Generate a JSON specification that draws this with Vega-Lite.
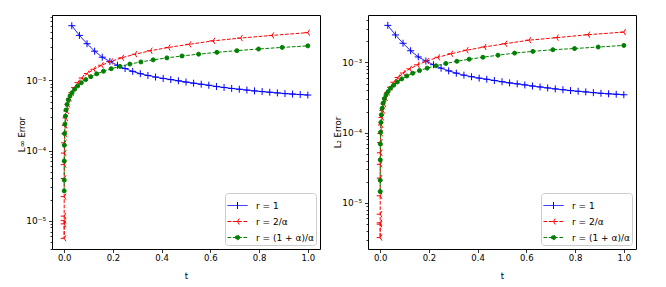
{
  "$schema": "https://vega.github.io/schema/vega-lite/v6.json",
  "padding": {"left": 16, "top": 14, "right": 5, "bottom": 5},
  "spacing": 11,
  "config": {
    "font": "DejaVu Sans",
    "view": {"stroke": "black", "strokeWidth": 1},
    "axis": {"domain": false, "grid": false, "tickColor": "black", "tickWidth": 0.8, "labelColor": "black", "titleColor": "black", "labelFontSize": 8.5, "titleFontSize": 8.5, "titleFontWeight": "normal", "labelFont": "DejaVu Sans", "titleFont": "DejaVu Sans"},
    "legend": {"orient": "bottom-right", "offset": 4, "padding": 2, "rowPadding": -1.5, "labelOffset": 8, "labelFontSize": 9, "labelColor": "black", "labelFont": "DejaVu Sans", "symbolSize": 400, "symbolStrokeWidth": 1, "fillColor": "white", "strokeColor": "#cccccc", "cornerRadius": 3}
  },
  "datasets": {
    "left": [
      {"s":"r = 1","t":0.03125,"e":0.00605},{"s":"r = 1","t":0.0625,"e":0.0044},{"s":"r = 1","t":0.09375,"e":0.00335},{"s":"r = 1","t":0.125,"e":0.00262},
      {"s":"r = 1","t":0.15625,"e":0.00215},{"s":"r = 1","t":0.1875,"e":0.00187},{"s":"r = 1","t":0.21875,"e":0.00165},{"s":"r = 1","t":0.25,"e":0.00148},
      {"s":"r = 1","t":0.28125,"e":0.00135},{"s":"r = 1","t":0.3125,"e":0.00125},{"s":"r = 1","t":0.34375,"e":0.00118},{"s":"r = 1","t":0.375,"e":0.00112},
      {"s":"r = 1","t":0.40625,"e":0.00107},{"s":"r = 1","t":0.4375,"e":0.00103},{"s":"r = 1","t":0.46875,"e":0.00099},{"s":"r = 1","t":0.5,"e":0.00095},
      {"s":"r = 1","t":0.53125,"e":0.000915},{"s":"r = 1","t":0.5625,"e":0.000885},{"s":"r = 1","t":0.59375,"e":0.000855},{"s":"r = 1","t":0.625,"e":0.00082},
      {"s":"r = 1","t":0.65625,"e":0.000795},{"s":"r = 1","t":0.6875,"e":0.00077},{"s":"r = 1","t":0.71875,"e":0.00075},{"s":"r = 1","t":0.75,"e":0.00073},
      {"s":"r = 1","t":0.78125,"e":0.00071},{"s":"r = 1","t":0.8125,"e":0.000695},{"s":"r = 1","t":0.84375,"e":0.00068},{"s":"r = 1","t":0.875,"e":0.000665},
      {"s":"r = 1","t":0.90625,"e":0.00065},{"s":"r = 1","t":0.9375,"e":0.00064},{"s":"r = 1","t":0.96875,"e":0.00063},{"s":"r = 1","t":1.0,"e":0.00062},
      {"s":"r = 2/α","t":2.98e-8,"e":1.0e-5},{"s":"r = 2/α","t":9.54e-7,"e":9.0e-6},{"s":"r = 2/α","t":7.24e-6,"e":5.6e-6},{"s":"r = 2/α","t":3.05e-5,"e":1.16e-5},
      {"s":"r = 2/α","t":9.31e-5,"e":2.2e-5},{"s":"r = 2/α","t":0.0002317,"e":4.0e-5},{"s":"r = 2/α","t":0.0005009,"e":6.3e-5},{"s":"r = 2/α","t":0.0009766,"e":9.2e-5},
      {"s":"r = 2/α","t":0.00176,"e":0.000129},{"s":"r = 2/α","t":0.00298,"e":0.000174},{"s":"r = 2/α","t":0.0048,"e":0.000229},{"s":"r = 2/α","t":0.007416,"e":0.000293},
      {"s":"r = 2/α","t":0.011065,"e":0.000368},{"s":"r = 2/α","t":0.016028,"e":0.000455},{"s":"r = 2/α","t":0.022631,"e":0.000554},{"s":"r = 2/α","t":0.03125,"e":0.000666},
      {"s":"r = 2/α","t":0.042315,"e":0.000791},{"s":"r = 2/α","t":0.056314,"e":0.000931},{"s":"r = 2/α","t":0.073794,"e":0.001087},{"s":"r = 2/α","t":0.095367,"e":0.001258},
      {"s":"r = 2/α","t":0.121716,"e":0.001445},{"s":"r = 2/α","t":0.153591,"e":0.00165},{"s":"r = 2/α","t":0.191818,"e":0.00187},{"s":"r = 2/α","t":0.237305,"e":0.00211},
      {"s":"r = 2/α","t":0.291038,"e":0.00237},{"s":"r = 2/α","t":0.354093,"e":0.00266},{"s":"r = 2/α","t":0.42763,"e":0.00296},{"s":"r = 2/α","t":0.512909,"e":0.00328},
      {"s":"r = 2/α","t":0.611281,"e":0.00368},{"s":"r = 2/α","t":0.724196,"e":0.00403},{"s":"r = 2/α","t":0.853215,"e":0.0044},{"s":"r = 2/α","t":1.0,"e":0.00482},
      {"s":"r = (1 + α)/α","t":5.4e-6,"e":2.66e-5},{"s":"r = (1 + α)/α","t":6.1e-5,"e":3.8e-5},{"s":"r = (1 + α)/α","t":0.000252,"e":7.1e-5},{"s":"r = (1 + α)/α","t":0.00069,"e":0.000119},
      {"s":"r = (1 + α)/α","t":0.00151,"e":0.000175},{"s":"r = (1 + α)/α","t":0.00286,"e":0.000238},{"s":"r = (1 + α)/α","t":0.00489,"e":0.00031},{"s":"r = (1 + α)/α","t":0.00781,"e":0.00038},
      {"s":"r = (1 + α)/α","t":0.0118,"e":0.000455},{"s":"r = (1 + α)/α","t":0.01707,"e":0.00053},{"s":"r = (1 + α)/α","t":0.02383,"e":0.0006},{"s":"r = (1 + α)/α","t":0.03229,"e":0.00067},
      {"s":"r = (1 + α)/α","t":0.0427,"e":0.00075},{"s":"r = (1 + α)/α","t":0.0554,"e":0.000835},{"s":"r = (1 + α)/α","t":0.0705,"e":0.00093},{"s":"r = (1 + α)/α","t":0.0884,"e":0.00103},
      {"s":"r = (1 + α)/α","t":0.1093,"e":0.001134},{"s":"r = (1 + α)/α","t":0.1335,"e":0.001243},{"s":"r = (1 + α)/α","t":0.1613,"e":0.001355},{"s":"r = (1 + α)/α","t":0.193,"e":0.001471},
      {"s":"r = (1 + α)/α","t":0.229,"e":0.00159},{"s":"r = (1 + α)/α","t":0.2695,"e":0.001713},{"s":"r = (1 + α)/α","t":0.3148,"e":0.00184},{"s":"r = (1 + α)/α","t":0.3654,"e":0.001969},
      {"s":"r = (1 + α)/α","t":0.4215,"e":0.002102},{"s":"r = (1 + α)/α","t":0.4835,"e":0.002238},{"s":"r = (1 + α)/α","t":0.5517,"e":0.002377},{"s":"r = (1 + α)/α","t":0.6267,"e":0.00252},
      {"s":"r = (1 + α)/α","t":0.7087,"e":0.002665},{"s":"r = (1 + α)/α","t":0.7978,"e":0.002814},{"s":"r = (1 + α)/α","t":0.8949,"e":0.002966},{"s":"r = (1 + α)/α","t":1.0,"e":0.00312}
    ],
    "right": [
      {"s":"r = 1","t":0.03125,"e":0.00338},{"s":"r = 1","t":0.0625,"e":0.00247},{"s":"r = 1","t":0.09375,"e":0.00188},{"s":"r = 1","t":0.125,"e":0.00147},
      {"s":"r = 1","t":0.15625,"e":0.0012},{"s":"r = 1","t":0.1875,"e":0.00105},{"s":"r = 1","t":0.21875,"e":0.00093},{"s":"r = 1","t":0.25,"e":0.00083},
      {"s":"r = 1","t":0.28125,"e":0.00076},{"s":"r = 1","t":0.3125,"e":0.000705},{"s":"r = 1","t":0.34375,"e":0.00066},{"s":"r = 1","t":0.375,"e":0.000627},
      {"s":"r = 1","t":0.40625,"e":0.000599},{"s":"r = 1","t":0.4375,"e":0.000577},{"s":"r = 1","t":0.46875,"e":0.000554},{"s":"r = 1","t":0.5,"e":0.000532},
      {"s":"r = 1","t":0.53125,"e":0.000512},{"s":"r = 1","t":0.5625,"e":0.000496},{"s":"r = 1","t":0.59375,"e":0.000479},{"s":"r = 1","t":0.625,"e":0.000462},
      {"s":"r = 1","t":0.65625,"e":0.000448},{"s":"r = 1","t":0.6875,"e":0.000434},{"s":"r = 1","t":0.71875,"e":0.00042},{"s":"r = 1","t":0.75,"e":0.000409},
      {"s":"r = 1","t":0.78125,"e":0.000398},{"s":"r = 1","t":0.8125,"e":0.000389},{"s":"r = 1","t":0.84375,"e":0.000381},{"s":"r = 1","t":0.875,"e":0.000372},
      {"s":"r = 1","t":0.90625,"e":0.000364},{"s":"r = 1","t":0.9375,"e":0.000358},{"s":"r = 1","t":0.96875,"e":0.000353},{"s":"r = 1","t":1.0,"e":0.000347},
      {"s":"r = 2/α","t":2.98e-8,"e":5.2e-6},{"s":"r = 2/α","t":9.54e-7,"e":4.97e-6},{"s":"r = 2/α","t":7.24e-6,"e":3.2e-6},{"s":"r = 2/α","t":3.05e-5,"e":6.9e-6},
      {"s":"r = 2/α","t":9.31e-5,"e":1.26e-5},{"s":"r = 2/α","t":0.0002317,"e":2.25e-5},{"s":"r = 2/α","t":0.0005009,"e":3.54e-5},{"s":"r = 2/α","t":0.0009766,"e":5.17e-5},
      {"s":"r = 2/α","t":0.00176,"e":7.25e-5},{"s":"r = 2/α","t":0.00298,"e":9.78e-5},{"s":"r = 2/α","t":0.0048,"e":0.0001287},{"s":"r = 2/α","t":0.007416,"e":0.0001647},
      {"s":"r = 2/α","t":0.011065,"e":0.0002068},{"s":"r = 2/α","t":0.016028,"e":0.0002557},{"s":"r = 2/α","t":0.022631,"e":0.0003113},{"s":"r = 2/α","t":0.03125,"e":0.0003743},
      {"s":"r = 2/α","t":0.042315,"e":0.0004445},{"s":"r = 2/α","t":0.056314,"e":0.0005232},{"s":"r = 2/α","t":0.073794,"e":0.0006109},{"s":"r = 2/α","t":0.095367,"e":0.000707},
      {"s":"r = 2/α","t":0.121716,"e":0.000812},{"s":"r = 2/α","t":0.153591,"e":0.000927},{"s":"r = 2/α","t":0.191818,"e":0.001051},{"s":"r = 2/α","t":0.237305,"e":0.001186},
      {"s":"r = 2/α","t":0.291038,"e":0.001332},{"s":"r = 2/α","t":0.354093,"e":0.001495},{"s":"r = 2/α","t":0.42763,"e":0.001664},{"s":"r = 2/α","t":0.512909,"e":0.00185},
      {"s":"r = 2/α","t":0.611281,"e":0.00208},{"s":"r = 2/α","t":0.724196,"e":0.00226},{"s":"r = 2/α","t":0.853215,"e":0.00249},{"s":"r = 2/α","t":1.0,"e":0.00271},
      {"s":"r = (1 + α)/α","t":5.4e-6,"e":1.45e-5},{"s":"r = (1 + α)/α","t":6.1e-5,"e":2.1e-5},{"s":"r = (1 + α)/α","t":0.000252,"e":4.1e-5},{"s":"r = (1 + α)/α","t":0.00069,"e":6.9e-5},
      {"s":"r = (1 + α)/α","t":0.00151,"e":0.000101},{"s":"r = (1 + α)/α","t":0.00286,"e":0.00014},{"s":"r = (1 + α)/α","t":0.00489,"e":0.00018},{"s":"r = (1 + α)/α","t":0.00781,"e":0.000222},
      {"s":"r = (1 + α)/α","t":0.0118,"e":0.000263},{"s":"r = (1 + α)/α","t":0.01707,"e":0.000305},{"s":"r = (1 + α)/α","t":0.02383,"e":0.000345},{"s":"r = (1 + α)/α","t":0.03229,"e":0.000385},
      {"s":"r = (1 + α)/α","t":0.0427,"e":0.00043},{"s":"r = (1 + α)/α","t":0.0554,"e":0.000475},{"s":"r = (1 + α)/α","t":0.0705,"e":0.000528},{"s":"r = (1 + α)/α","t":0.0884,"e":0.000584},
      {"s":"r = (1 + α)/α","t":0.1093,"e":0.000642},{"s":"r = (1 + α)/α","t":0.1335,"e":0.000703},{"s":"r = (1 + α)/α","t":0.1613,"e":0.000766},{"s":"r = (1 + α)/α","t":0.193,"e":0.000831},
      {"s":"r = (1 + α)/α","t":0.229,"e":0.000898},{"s":"r = (1 + α)/α","t":0.2695,"e":0.000968},{"s":"r = (1 + α)/α","t":0.3148,"e":0.00104},{"s":"r = (1 + α)/α","t":0.3654,"e":0.001113},
      {"s":"r = (1 + α)/α","t":0.4215,"e":0.001188},{"s":"r = (1 + α)/α","t":0.4835,"e":0.00127},{"s":"r = (1 + α)/α","t":0.5517,"e":0.00136},{"s":"r = (1 + α)/α","t":0.6267,"e":0.00144},
      {"s":"r = (1 + α)/α","t":0.7087,"e":0.00152},{"s":"r = (1 + α)/α","t":0.7978,"e":0.00158},{"s":"r = (1 + α)/α","t":0.8949,"e":0.00166},{"s":"r = (1 + α)/α","t":1.0,"e":0.00175}
    ]
  },
  "resolve": {
    "scale": {"x": "independent", "y": "independent", "color": "independent", "strokeDash": "independent"},
    "legend": {"color": "independent"}
  },
  "hconcat": [
    {
      "width": 268, "height": 234,
      "data": {"name": "left"},
      "resolve": {"axis": {"y": "independent"}},
      "layer": [
        {
          "mark": {"type": "line", "strokeWidth": 1, "clip": true},
          "encoding": {
            "x": {"field": "t", "type": "quantitative", "scale": {"domain": [-0.05, 1.05], "nice": false, "zero": false},
                  "axis": {"values": [0, 0.2, 0.4, 0.6, 0.8, 1.0], "format": ".1f", "title": "t", "tickSize": 3.5, "labelPadding": 1, "titlePadding": 9}},
            "y": {"field": "e", "type": "quantitative", "scale": {"type": "log", "domain": [3.94e-6, 8.6e-3], "nice": false},
                  "axis": {"orient": "left", "values": [1e-5, 1e-4, 1e-3], "labelExpr": "datum.value < 3e-5 ? '10⁻⁵' : datum.value < 3e-4 ? '10⁻⁴' : '10⁻³'", "tickSize": 3.5, "labelPadding": 3, "labelFontSize": 9, "title": "L∞ Error", "titleX": -26, "titleY": 119, "titleBaseline": "bottom"}},
            "color": {"field": "s", "type": "nominal", "scale": {"domain": ["r = 1", "r = 2/α", "r = (1 + α)/α"], "range": ["#0000ff", "#ff0000", "#008000"]},
                      "legend": {"title": null, "encode": {"symbols": {"update": {
                        "shape": {"signal": "datum.index === 0 ? 'M-1,0L1,0M0,-0.35L0,0.35' : datum.index === 1 ? 'M-1,0L-0.63,0M-0.47,0L-0.1,0M0.06,0L0.43,0M0.59,0L0.96,0M0,0L-0.35,0M0,0L0.175,-0.3M0,0L0.175,0.3' : 'M-1,0L-0.63,0M-0.47,0L-0.1,0M0.06,0L0.43,0M0.59,0L0.96,0M0.22,0L0.156,0.156L0,0.22L-0.156,0.156L-0.22,0L-0.156,-0.156L0,-0.22L0.156,-0.156Z'"},
                        "size": {"value": 400},
                        "stroke": {"signal": "datum.index === 0 ? '#0000ff' : datum.index === 1 ? '#ff0000' : '#008000'"},
                        "fill": {"signal": "datum.index === 2 ? '#008000' : 'transparent'"},
                        "strokeDash": {"value": []},
                        "strokeWidth": {"value": 1},
                        "opacity": {"value": 1}
                      }}}}},
            "strokeDash": {"field": "s", "type": "nominal", "scale": {"domain": ["r = 1", "r = 2/α", "r = (1 + α)/α"], "range": [[1, 0], [3.7, 1.6], [3.7, 1.6]]}, "legend": null}
          }
        },
        {
          "transform": [{"filter": "datum.s === 'r = 1'"}],
          "mark": {"type": "point", "shape": "M-1.75,0L1.75,0M0,-1.75L0,1.75", "size": 16, "filled": false, "stroke": "#0000ff", "strokeWidth": 1, "opacity": 1, "clip": true},
          "encoding": {
            "x": {"field": "t", "type": "quantitative"},
            "y": {"field": "e", "type": "quantitative",
                  "axis": {"orient": "left", "values": [4e-6,5e-6,6e-6,7e-6,8e-6,9e-6,2e-5,3e-5,4e-5,5e-5,6e-5,7e-5,8e-5,9e-5,2e-4,3e-4,4e-4,5e-4,6e-4,7e-4,8e-4,9e-4,2e-3,3e-3,4e-3,5e-3,6e-3,7e-3,8e-3], "labels": false, "tickSize": 2, "title": null}}
          }
        },
        {
          "transform": [{"filter": "datum.s === 'r = 2/α'"}],
          "mark": {"type": "point", "shape": "M0,0L-1.75,0M0,0L0.875,-1.52M0,0L0.875,1.52", "size": 16, "filled": false, "stroke": "#ff0000", "strokeWidth": 1, "opacity": 1, "clip": true},
          "encoding": {
            "x": {"field": "t", "type": "quantitative"},
            "y": {"field": "e", "type": "quantitative", "axis": null}
          }
        },
        {
          "transform": [{"filter": "datum.s === 'r = (1 + α)/α'"}],
          "mark": {"type": "point", "shape": "circle", "size": 16, "filled": true, "fill": "#008000", "stroke": "#008000", "strokeWidth": 1, "opacity": 1, "clip": true},
          "encoding": {
            "x": {"field": "t", "type": "quantitative"},
            "y": {"field": "e", "type": "quantitative", "axis": null}
          }
        }
      ]
    },
    {
      "width": 268, "height": 234,
      "data": {"name": "right"},
      "resolve": {"axis": {"y": "independent"}},
      "layer": [
        {
          "mark": {"type": "line", "strokeWidth": 1, "clip": true},
          "encoding": {
            "x": {"field": "t", "type": "quantitative", "scale": {"domain": [-0.05, 1.05], "nice": false, "zero": false},
                  "axis": {"values": [0, 0.2, 0.4, 0.6, 0.8, 1.0], "format": ".1f", "title": "t", "tickSize": 3.5, "labelPadding": 1, "titlePadding": 9}},
            "y": {"field": "e", "type": "quantitative", "scale": {"type": "log", "domain": [2.2e-6, 4.75e-3], "nice": false},
                  "axis": {"orient": "left", "values": [1e-5, 1e-4, 1e-3], "labelExpr": "datum.value < 3e-5 ? '10⁻⁵' : datum.value < 3e-4 ? '10⁻⁴' : '10⁻³'", "tickSize": 3.5, "labelPadding": 3, "labelFontSize": 9, "title": "L₂ Error", "titleX": -26, "titleY": 117, "titleBaseline": "bottom"}},
            "color": {"field": "s", "type": "nominal", "scale": {"domain": ["r = 1", "r = 2/α", "r = (1 + α)/α"], "range": ["#0000ff", "#ff0000", "#008000"]},
                      "legend": {"title": null, "encode": {"symbols": {"update": {
                        "shape": {"signal": "datum.index === 0 ? 'M-1,0L1,0M0,-0.35L0,0.35' : datum.index === 1 ? 'M-1,0L-0.63,0M-0.47,0L-0.1,0M0.06,0L0.43,0M0.59,0L0.96,0M0,0L-0.35,0M0,0L0.175,-0.3M0,0L0.175,0.3' : 'M-1,0L-0.63,0M-0.47,0L-0.1,0M0.06,0L0.43,0M0.59,0L0.96,0M0.22,0L0.156,0.156L0,0.22L-0.156,0.156L-0.22,0L-0.156,-0.156L0,-0.22L0.156,-0.156Z'"},
                        "size": {"value": 400},
                        "stroke": {"signal": "datum.index === 0 ? '#0000ff' : datum.index === 1 ? '#ff0000' : '#008000'"},
                        "fill": {"signal": "datum.index === 2 ? '#008000' : 'transparent'"},
                        "strokeDash": {"value": []},
                        "strokeWidth": {"value": 1},
                        "opacity": {"value": 1}
                      }}}}},
            "strokeDash": {"field": "s", "type": "nominal", "scale": {"domain": ["r = 1", "r = 2/α", "r = (1 + α)/α"], "range": [[1, 0], [3.7, 1.6], [3.7, 1.6]]}, "legend": null}
          }
        },
        {
          "transform": [{"filter": "datum.s === 'r = 1'"}],
          "mark": {"type": "point", "shape": "M-1.75,0L1.75,0M0,-1.75L0,1.75", "size": 16, "filled": false, "stroke": "#0000ff", "strokeWidth": 1, "opacity": 1, "clip": true},
          "encoding": {
            "x": {"field": "t", "type": "quantitative"},
            "y": {"field": "e", "type": "quantitative",
                  "axis": {"orient": "left", "values": [3e-6,4e-6,5e-6,6e-6,7e-6,8e-6,9e-6,2e-5,3e-5,4e-5,5e-5,6e-5,7e-5,8e-5,9e-5,2e-4,3e-4,4e-4,5e-4,6e-4,7e-4,8e-4,9e-4,2e-3,3e-3,4e-3], "labels": false, "tickSize": 2, "title": null}}
          }
        },
        {
          "transform": [{"filter": "datum.s === 'r = 2/α'"}],
          "mark": {"type": "point", "shape": "M0,0L-1.75,0M0,0L0.875,-1.52M0,0L0.875,1.52", "size": 16, "filled": false, "stroke": "#ff0000", "strokeWidth": 1, "opacity": 1, "clip": true},
          "encoding": {
            "x": {"field": "t", "type": "quantitative"},
            "y": {"field": "e", "type": "quantitative", "axis": null}
          }
        },
        {
          "transform": [{"filter": "datum.s === 'r = (1 + α)/α'"}],
          "mark": {"type": "point", "shape": "circle", "size": 16, "filled": true, "fill": "#008000", "stroke": "#008000", "strokeWidth": 1, "opacity": 1, "clip": true},
          "encoding": {
            "x": {"field": "t", "type": "quantitative"},
            "y": {"field": "e", "type": "quantitative", "axis": null}
          }
        }
      ]
    }
  ]
}
